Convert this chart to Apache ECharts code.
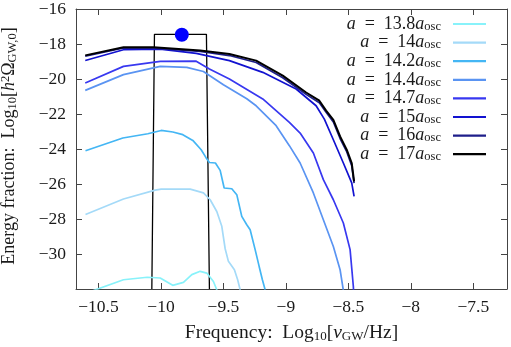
<!DOCTYPE html>
<html>
<head>
<meta charset="utf-8">
<script src="https://cdn.jsdelivr.net/npm/echarts@6/dist/echarts.min.js"></script>
<style>html,body{margin:0;padding:0;background:#fff}#c{width:511px;height:347px}</style>
</head>
<body>
<div id="c"></div>
<script>
// ---- data ----
const seriesNames = ['13.8', '14', '14.2', '14.4', '14.7', '15', '16', '17'];
const seriesColors = ['#88f2fa', '#a4daf8', '#44b6f4', '#5a94f2', '#3838f0', '#1212d0', '#1e1e8a', '#000000'];

const freq138 = [-10.604, -10.30, -10.11, -10.006, -9.906, -9.82, -9.753, -9.686, -9.633, -9.58, -9.553, -9.53];
const omega138 = [-32.25, -31.47, -31.33, -31.37, -31.79, -31.62, -31.18, -30.99, -31.09, -31.57, -32.04, -32.5];

const freq14 = [-10.604, -10.30, -10.046, -9.998, -9.766, -9.66, -9.606, -9.553, -9.513, -9.486, -9.46, -9.412, -9.386, -9.366, -9.35];
const omega14 = [-27.74, -26.86, -26.35, -26.29, -26.29, -26.51, -26.90, -27.57, -28.42, -29.70, -30.42, -30.90, -31.47, -32.04, -32.4];

const freq142 = [-10.604, -10.305, -10.105, -9.998, -9.905, -9.825, -9.745, -9.678, -9.638, -9.612, -9.564, -9.526, -9.494, -9.433, -9.393, -9.353, -9.313, -9.286, -9.246, -9.214, -9.188, -9.166];
const omega142 = [-24.1, -23.37, -23.13, -22.94, -23.03, -23.18, -23.51, -24.04, -24.51, -24.77, -24.80, -25.22, -26.23, -26.27, -26.61, -27.85, -28.33, -28.61, -29.75, -30.71, -31.47, -32.04];

const freq144 = [-10.606, -10.30, -10.006, -9.793, -9.66, -9.50, -9.313, -9.238, -9.078, -8.972, -8.886, -8.78, -8.70, -8.62, -8.566, -8.545, -8.53];
const omega144 = [-20.65, -19.75, -19.28, -19.34, -19.57, -20.33, -21.13, -21.53, -22.67, -23.81, -24.80, -26.51, -28.04, -29.57, -30.90, -31.85, -32.5];

const freq147 = [-10.606, -10.30, -10.006, -9.718, -9.612, -9.452, -9.185, -8.972, -8.886, -8.78, -8.70, -8.62, -8.54, -8.486, -8.46, -8.455];
const omega147 = [-20.23, -19.28, -18.99, -18.98, -19.43, -20.00, -21.14, -22.48, -23.09, -24.23, -25.75, -26.90, -28.23, -29.75, -31.85, -32.5];

const freq15 = [-10.606, -10.30, -10.006, -9.718, -9.452, -9.185, -8.918, -8.758, -8.692, -8.62, -8.54, -8.473, -8.454];
const omega15 = [-18.94, -18.33, -18.29, -18.54, -18.95, -19.62, -20.57, -21.53, -22.29, -23.47, -24.80, -25.94, -26.71];

const freq16 = [-10.606, -10.30, -10.06, -9.686, -9.452, -9.238, -9.025, -8.838, -8.732, -8.678, -8.62, -8.566, -8.513, -8.473, -8.454];
const omega16 = [-18.69, -18.23, -18.24, -18.43, -18.66, -19.06, -19.93, -20.88, -21.36, -21.90, -22.45, -23.40, -24.15, -24.95, -25.95];

const freq17 = [-10.606, -10.30, -10.06, -9.686, -9.452, -9.238, -9.025, -8.838, -8.732, -8.678, -8.62, -8.566, -8.513, -8.473, -8.454];
const omega17 = [-18.65, -18.19, -18.19, -18.37, -18.57, -18.95, -19.81, -20.77, -21.24, -21.81, -22.33, -23.28, -24.04, -24.80, -25.85];

const boxFreq = [-10.073, -10.052, -9.636, -9.612];
const boxOmega = [-32, -17.45, -17.45, -32];

const pointFreq = [-9.833];
const pointOmega = [-17.47];

const xTicks = [-10.5, -10, -9.5, -9, -8.5, -8, -7.5];
const yTicks = [-30, -28, -26, -24, -22, -20, -18, -16];

// ---- build ----
const allFreq = [freq138, freq14, freq142, freq144, freq147, freq15, freq16, freq17];
const allOmega = [omega138, omega14, omega142, omega144, omega147, omega15, omega16, omega17];
const zip = (a, b) => a.map((v, i) => [v, b[i]]);

const FONT = 'Liberation Serif';
const TXT = '#1a1a1a';
const AX = '#444';

function fmtNum(v) {
  const s = String(Number(Math.abs(v).toFixed(2)));
  return (v < 0 ? '\u2212' : '') + s;
}
const near = (arr, v) => arr.some(t => Math.abs(t - v) < 1e-6);

function makeRich(fs, sfs) {
  return {
    r: { fontFamily: FONT, fontSize: fs, color: TXT, lineHeight: 20 },
    i: { fontFamily: FONT, fontSize: fs, fontStyle: 'italic', color: TXT, lineHeight: 20 },
    s: { fontFamily: FONT, fontSize: sfs, color: TXT, lineHeight: 12, verticalAlign: 'bottom' },
    p: { fontFamily: FONT, fontSize: sfs, color: TXT, lineHeight: 12, verticalAlign: 'top' }
  };
}
const legendRich = {
  r: { fontFamily: FONT, fontSize: 18, color: TXT, lineHeight: 18 },
  i: { fontFamily: FONT, fontSize: 18, fontStyle: 'italic', color: TXT, lineHeight: 18 },
  s: { fontFamily: FONT, fontSize: 12.5, color: TXT, lineHeight: 11, verticalAlign: 'bottom' }
};

const XMIN = -10.68, XMAX = -7.23, YMIN = -32, YMAX = -16;

const series = [];
series.push({
  type: 'line', name: 'box', data: zip(boxFreq, boxOmega), symbol: 'none',
  lineStyle: { color: '#000', width: 1.3 }, silent: true, z: 2
});
seriesNames.forEach((n, k) => {
  series.push({
    type: 'line', name: n, data: zip(allFreq[k], allOmega[k]), symbol: 'none', showSymbol: false,
    color: seriesColors[k],
    lineStyle: { color: seriesColors[k], width: k === 7 ? 2 : 1.7 },
    z: 3 + k, clip: true
  });
});
series.push({
  type: 'scatter', name: 'point', data: zip(pointFreq, pointOmega), symbol: 'circle', symbolSize: 14,
  itemStyle: { color: '#0000ff', opacity: 1 }, z: 20
});

const chart = echarts.init(document.getElementById('c'), null, { renderer: 'canvas' });
chart.setOption({
  animation: false,
  backgroundColor: '#ffffff',
  grid: { left: 76, right: 4, top: 9, bottom: 58, containLabel: false, outerBoundsMode: 'none' },
  legend: {
    data: seriesNames,
    orient: 'vertical',
    align: 'right',
    right: 25, top: 15,
    padding: 0,
    itemGap: 0.6,
    itemWidth: 33, itemHeight: 2.2,
    icon: 'rect',
    selectedMode: false,
    formatter: n => `{i|a}{r|\u2002=\u2002${n}}{i|a}{s|osc}`,
    textStyle: { rich: legendRich, padding: [0, 7, 0, 0] }
  },
  xAxis: [{
    type: 'value', min: XMIN, max: XMAX, splitNumber: 7, position: 'bottom',
    axisLine: { show: true, lineStyle: { color: AX, width: 1 } },
    axisTick: { show: true, inside: true, length: 6, lineStyle: { color: AX } },
    splitLine: { show: false },
    axisLabel: {
      margin: 9, fontFamily: FONT, fontSize: 17.5, color: TXT,
      formatter: v => near(xTicks, v) ? fmtNum(v) : ''
    },
    name: '{r|Frequency:  Log}{s|10}{r|[}{i|\u03bd}{s|GW}{r|/Hz]}',
    nameLocation: 'middle', nameGap: 34,
    nameTextStyle: { rich: makeRich(19.5, 13) }
  }, {
    type: 'value', min: XMIN, max: XMAX, splitNumber: 7, position: 'top',
    axisLine: { show: true, lineStyle: { color: AX, width: 1 } },
    axisTick: { show: true, inside: true, length: 6, lineStyle: { color: AX } },
    splitLine: { show: false }, axisLabel: { show: false }
  }],
  yAxis: [{
    type: 'value', min: YMIN, max: YMAX, interval: 2, position: 'left',
    axisLine: { show: true, lineStyle: { color: AX, width: 1 } },
    axisTick: { show: true, inside: true, length: 6, lineStyle: { color: AX } },
    splitLine: { show: false },
    axisLabel: {
      margin: 10, fontFamily: FONT, fontSize: 17.5, color: TXT,
      formatter: v => near(yTicks, v) ? fmtNum(v) : ''
    },
    name: '{r|Energy fraction:  Log}{s|10}{r|[}{i|h}{p|2}{r|\u03a9}{s|GW,0}{r|]}',
    nameLocation: 'middle', nameGap: 57, nameRotate: 90,
    nameTextStyle: { rich: makeRich(18, 12.5), padding: [0, 0, 0, 6] }
  }, {
    type: 'value', min: YMIN, max: YMAX, interval: 2, position: 'right',
    axisLine: { show: true, lineStyle: { color: AX, width: 1 } },
    axisTick: { show: true, inside: true, length: 6, lineStyle: { color: AX } },
    splitLine: { show: false }, axisLabel: { show: false }
  }],
  series: series
});
</script>
</body>
</html>
